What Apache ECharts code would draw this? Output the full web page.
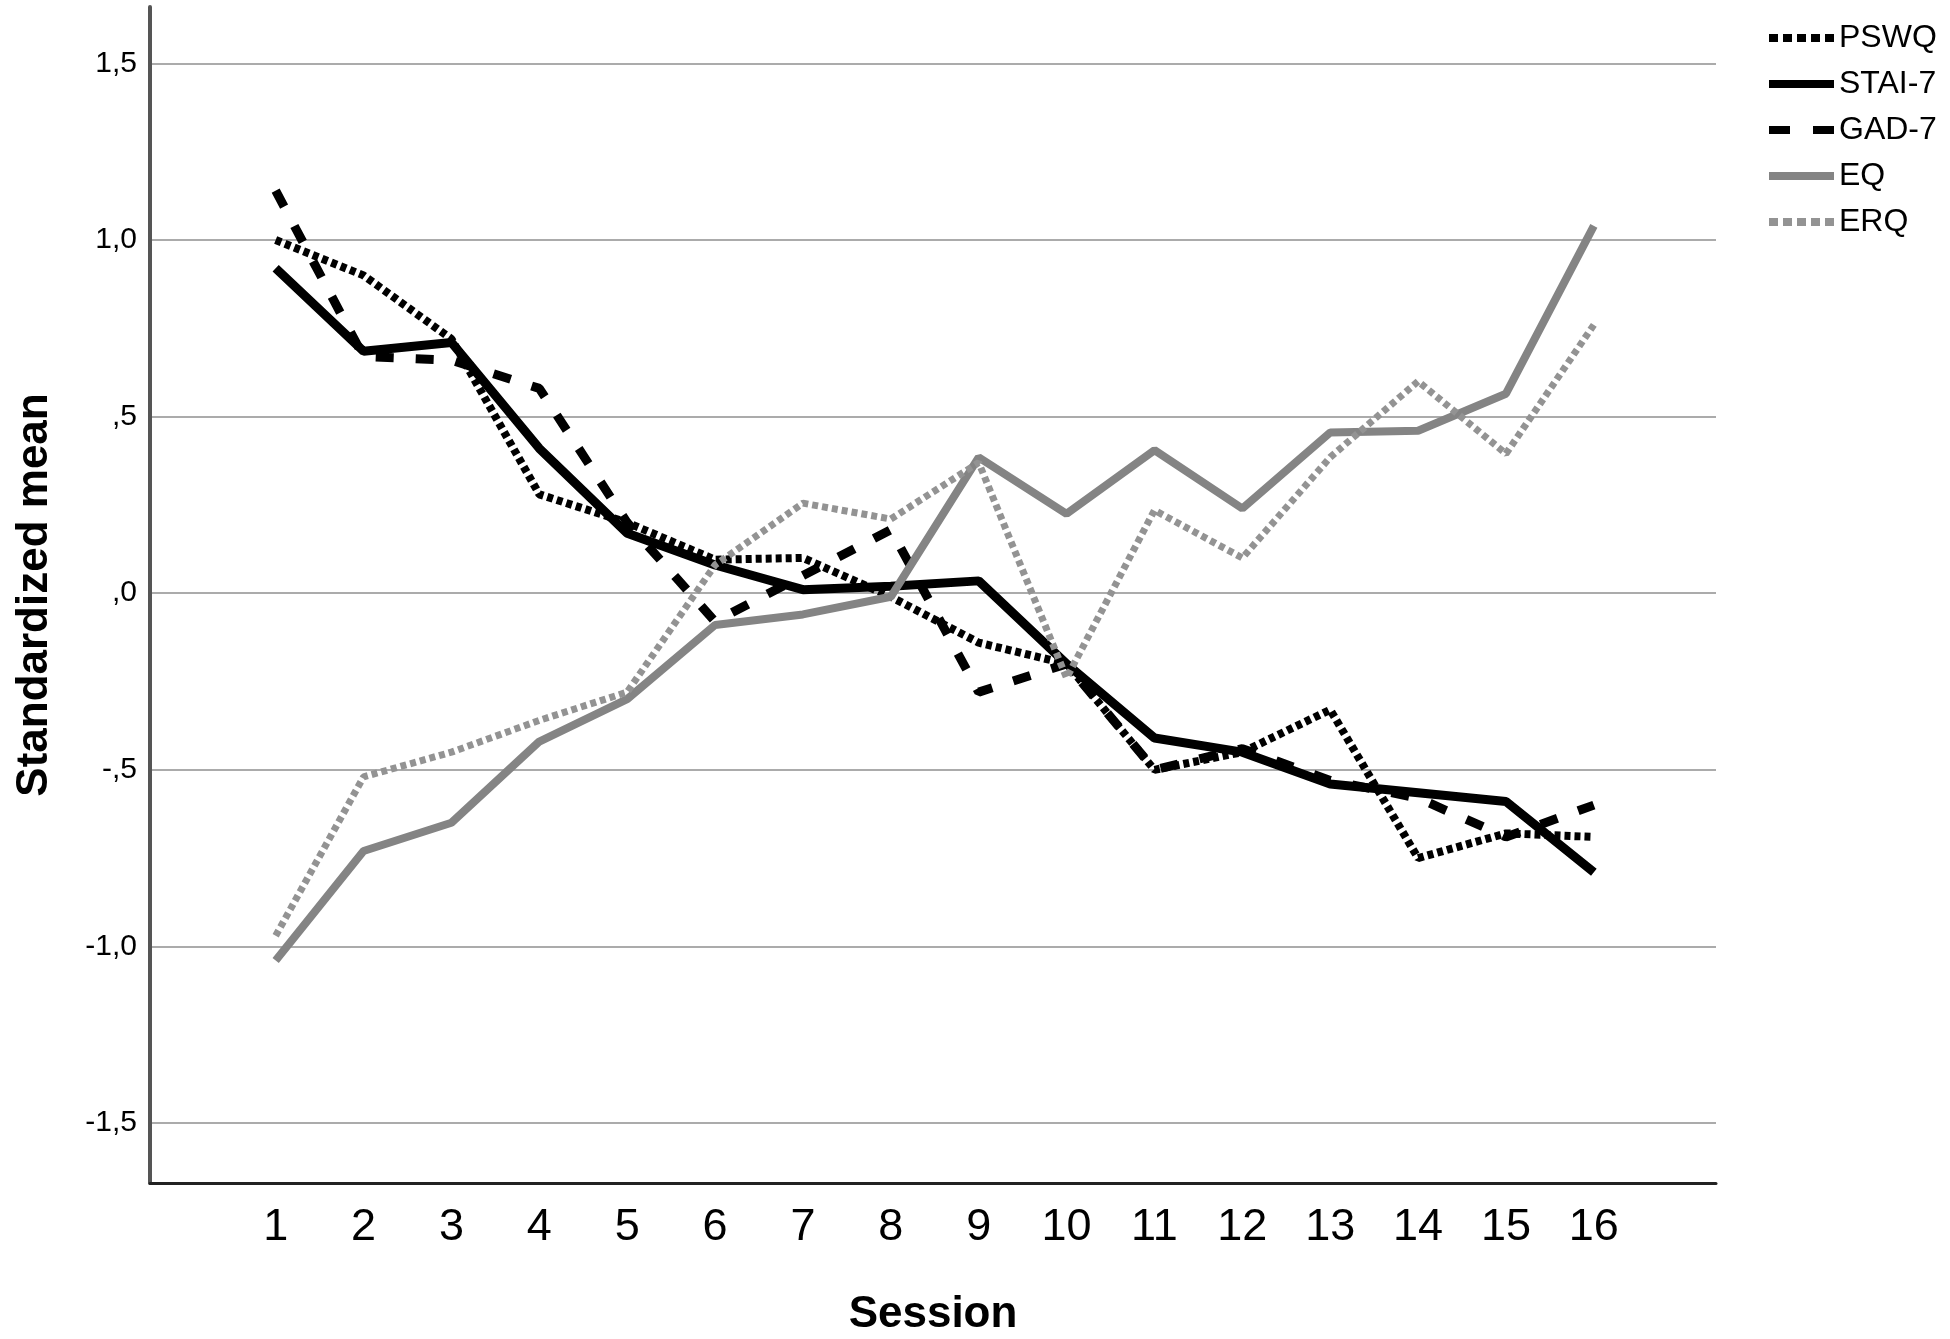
<!DOCTYPE html>
<html>
<head>
<meta charset="utf-8">
<script src="https://cdn.jsdelivr.net/npm/echarts@6/dist/echarts.min.js"></script>
<style>
html,body{margin:0;padding:0;background:#fff;}
#chart{width:1950px;height:1339px;}
</style>
</head>
<body>
<div id="chart"></div>
<script>
const sessions = [1, 2, 3, 4, 5, 6, 7, 8, 9, 10, 11, 12, 13, 14, 15, 16];
const pswq = [1.00, 0.90, 0.72, 0.28, 0.20, 0.095, 0.10, -0.01, -0.14, -0.20, -0.50, -0.45, -0.33, -0.75, -0.68, -0.69];
const stai7 = [0.92, 0.685, 0.71, 0.41, 0.17, 0.08, 0.01, 0.02, 0.035, -0.20, -0.41, -0.45, -0.54, -0.565, -0.59, -0.79];
const gad7 = [1.14, 0.67, 0.66, 0.58, 0.20, -0.08, 0.05, 0.18, -0.28, -0.20, -0.50, -0.44, -0.53, -0.58, -0.69, -0.60];
const eq = [-1.04, -0.73, -0.65, -0.42, -0.30, -0.09, -0.06, -0.01, 0.385, 0.225, 0.405, 0.24, 0.455, 0.46, 0.565, 1.04];
const erq = [-0.97, -0.52, -0.45, -0.36, -0.28, 0.08, 0.255, 0.21, 0.37, -0.24, 0.235, 0.10, 0.385, 0.60, 0.395, 0.76];
const yTickValues = [-1.5, -1, -0.5, 0, 0.5, 1, 1.5];
const yTickLabels = ['-1,5', '-1,0', '-,5', ',0', ',5', '1,0', '1,5'];
const seriesNames = ['PSWQ', 'STAI-7', 'GAD-7', 'EQ', 'ERQ'];
const legendDash = [[9, 5], 'solid', [21, 23], 'solid', [9, 5]];

function pairs(vals) { return sessions.map((s, i) => [s, vals[i]]); }

const chart = echarts.init(document.getElementById('chart'));
chart.setOption({
  animation: false,
  backgroundColor: '#fff',
  grid: { left: 150, top: 7, right: 234, bottom: 156, containLabel: false, outerBoundsMode: 'none' },
  legend: {
    orient: 'vertical', left: 1760, top: 17,
    itemWidth: 65, itemHeight: 8, itemGap: 14,
    data: seriesNames.map((n, i) => ({ name: n, lineStyle: { type: legendDash[i] } })),
    itemStyle: { opacity: 0 },
    lineStyle: { width: 8 },
    textStyle: { fontFamily: 'Liberation Sans, Arial, sans-serif', fontSize: 32, color: '#000' }
  },
  xAxis: {
    type: 'value', min: -0.43, max: 17.39,
    name: 'Session', nameLocation: 'middle', nameGap: 110,
    nameTextStyle: { fontFamily: 'Liberation Sans, Arial, sans-serif', fontSize: 44, fontWeight: 'bold', color: '#000' },
    axisLine: { show: true, onZero: false, lineStyle: { color: '#222', width: 3 } },
    axisTick: { show: false, customValues: sessions },
    splitLine: { show: false },
    axisLabel: {
      customValues: sessions, margin: 22,
      fontFamily: 'Liberation Sans Narrow, Arial Narrow, Liberation Sans, sans-serif',
      fontSize: 45, color: '#000'
    }
  },
  yAxis: {
    type: 'value', min: -1.67, max: 1.66,
    name: 'Standardized mean', nameLocation: 'middle', nameGap: 93, nameRotate: 90,
    nameTextStyle: { fontFamily: 'Liberation Sans, Arial, sans-serif', fontSize: 44, fontWeight: 'bold', color: '#000' },
    axisLine: { show: true, onZero: false, lineStyle: { color: '#555', width: 4 } },
    axisTick: { show: false, customValues: yTickValues },
    splitLine: { show: true, lineStyle: { color: '#ababab', width: 2 } },
    axisLabel: {
      customValues: yTickValues, margin: 13,
      fontFamily: 'Liberation Sans, Arial, sans-serif', fontSize: 30, color: '#000',
      padding: [8, 0, 0, 0],
      formatter: function (v) {
        const i = yTickValues.findIndex(t => Math.abs(t - v) < 1e-6);
        return i >= 0 ? yTickLabels[i] : '';
      }
    }
  },
  series: [
    { name: 'PSWQ', type: 'line', data: pairs(pswq), symbol: 'none', color: '#000',
      lineStyle: { color: '#000', width: 8, type: [6, 4] } },
    { name: 'STAI-7', type: 'line', data: pairs(stai7), symbol: 'none', color: '#000',
      lineStyle: { color: '#000', width: 9, type: 'solid' } },
    { name: 'GAD-7', type: 'line', data: pairs(gad7), symbol: 'none', color: '#000',
      lineStyle: { color: '#000', width: 9, type: [18, 22] } },
    { name: 'EQ', type: 'line', data: pairs(eq), symbol: 'none', color: '#848484',
      lineStyle: { color: '#848484', width: 8, type: 'solid' } },
    { name: 'ERQ', type: 'line', data: pairs(erq), symbol: 'none', color: '#939393',
      lineStyle: { color: '#939393', width: 7, type: [6, 4] } }
  ]
});
</script>
</body>
</html>
